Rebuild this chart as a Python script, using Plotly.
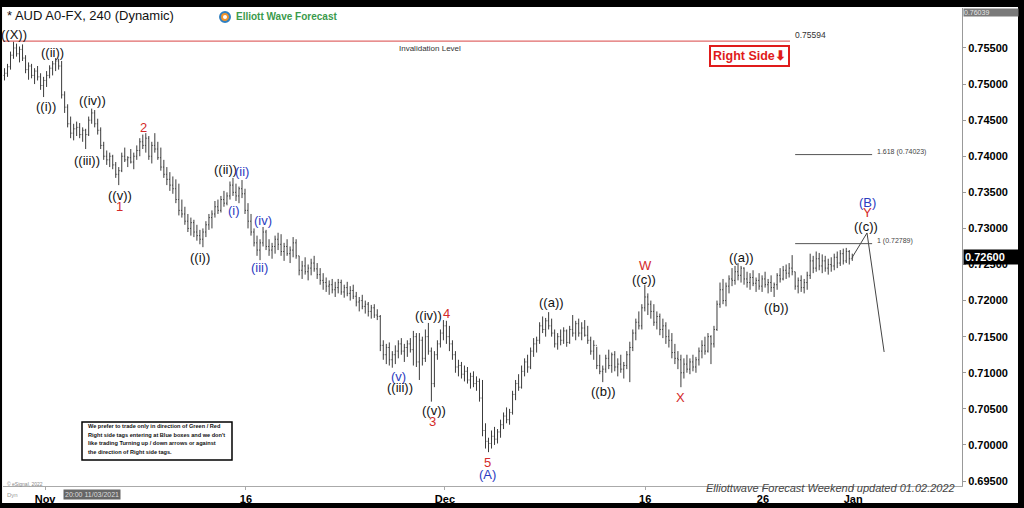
import plotly.graph_objects as go

# ---------------- data (4h bars, prices in pips: 7559 -> 0.7559) ----------------
first_open = 7512
bar_high = [
    7522, 7528, 7545, 7559, 7556, 7552, 7555, 7540, 7530, 7528, 7522, 7525, 7515, 7510, 7518, 7526, 7532, 7536, 7535, 7532,
    7490, 7472, 7455, 7445, 7448, 7446, 7440, 7438, 7455, 7466, 7464, 7452, 7440, 7420, 7408, 7405, 7402, 7392, 7385, 7405,
    7412, 7400, 7410, 7405, 7415, 7425, 7430, 7432, 7428, 7420, 7432, 7420, 7412, 7395, 7385, 7378, 7372, 7368, 7362, 7340,
    7330, 7320, 7315, 7312, 7305, 7298, 7300, 7310, 7320, 7325, 7338, 7340, 7345, 7352, 7350, 7365, 7370, 7362, 7358, 7367,
    7355, 7335, 7320, 7300, 7290, 7285, 7302, 7298, 7285, 7280, 7290, 7294, 7292, 7280, 7285, 7275, 7288, 7285, 7262, 7255,
    7260, 7250, 7258, 7262, 7252, 7245, 7238, 7232, 7228, 7230, 7226, 7230, 7229, 7222, 7226, 7220, 7222, 7212, 7205, 7208,
    7200, 7198, 7194, 7195, 7188, 7180, 7145, 7140, 7142, 7130, 7138, 7145, 7148, 7140, 7145, 7148, 7158, 7155, 7155, 7150,
    7160, 7169, 7135, 7130, 7145, 7160, 7173, 7172, 7165, 7145, 7130, 7118, 7115, 7110, 7108, 7100, 7102, 7095, 7092, 7090,
    7030, 7010, 7020, 7025, 7022, 7035, 7045, 7052, 7050, 7075, 7090, 7098, 7110, 7120, 7125, 7135, 7148, 7150, 7170, 7178,
    7176, 7184, 7175, 7160, 7155, 7160, 7163, 7160, 7165, 7180, 7172, 7175, 7170, 7173, 7165, 7150, 7145, 7136, 7125, 7110,
    7125, 7132, 7128, 7130, 7120, 7125, 7115, 7130, 7143, 7160, 7175, 7185, 7195, 7222, 7210, 7200, 7195, 7185, 7182, 7175,
    7170, 7160, 7155, 7140, 7130, 7125, 7120, 7125, 7120, 7125, 7122, 7135, 7145, 7150, 7155, 7152, 7165, 7200, 7225, 7230,
    7225, 7235, 7245, 7248, 7252, 7248, 7246, 7240, 7238, 7242, 7232, 7238, 7235, 7240, 7230, 7235, 7225, 7238, 7245, 7248,
    7250, 7252, 7263, 7240, 7232, 7235, 7230, 7240, 7265, 7262, 7268, 7266, 7264, 7262, 7258, 7260, 7265, 7268, 7270, 7272,
    7273, 7270, 7265,
]
bar_low = [
    7505, 7510, 7520, 7535, 7538, 7530, 7532, 7515, 7506, 7508, 7500, 7505, 7492, 7482, 7496, 7508, 7512, 7518, 7520, 7480,
    7460, 7440, 7425, 7422, 7428, 7425, 7420, 7410, 7428, 7445, 7440, 7430, 7410, 7395, 7388, 7385, 7382, 7370, 7360, 7378,
    7392, 7385, 7390, 7382, 7395, 7400, 7410, 7405, 7395, 7390, 7405, 7395, 7380, 7370, 7360, 7352, 7348, 7335, 7318, 7315,
    7305, 7295, 7290, 7288, 7283, 7278, 7274, 7288, 7298, 7300, 7315, 7320, 7322, 7330, 7332, 7340, 7345, 7338, 7335, 7342,
    7320, 7300, 7290, 7275, 7262, 7256, 7275, 7270, 7262, 7258, 7265, 7270, 7262, 7255, 7262, 7252, 7260, 7258, 7235, 7230,
    7236, 7228, 7235, 7240, 7230, 7222, 7215, 7212, 7208, 7210, 7205, 7210, 7208, 7204, 7206, 7200, 7202, 7192, 7185, 7188,
    7182, 7178, 7175, 7176, 7173, 7130, 7118, 7112, 7110, 7107, 7112, 7120, 7125, 7115, 7122, 7128, 7110, 7108, 7090, 7110,
    7115, 7125, 7060, 7080, 7118, 7135, 7145, 7140, 7130, 7118, 7100, 7095, 7092, 7088, 7085, 7078, 7080, 7075, 7060, 7012,
    6995, 6990, 6995, 7000, 7002, 7010, 7022, 7030, 7028, 7042, 7062, 7075, 7078, 7095, 7100, 7105, 7122, 7128, 7140, 7155,
    7150, 7160, 7150, 7135, 7132, 7138, 7140, 7136, 7140, 7150, 7145, 7150, 7145, 7150, 7140, 7125, 7118, 7105, 7098, 7087,
    7100, 7105, 7100, 7102, 7095, 7100, 7092, 7105, 7087, 7130, 7145, 7160, 7160, 7185, 7180, 7175, 7165, 7160, 7152, 7148,
    7140, 7135, 7120, 7112, 7105, 7080, 7092, 7100, 7098, 7102, 7100, 7110, 7120, 7125, 7128, 7112, 7135, 7158, 7190, 7195,
    7192, 7210, 7220, 7222, 7228, 7225, 7222, 7218, 7215, 7220, 7212, 7215, 7212, 7218, 7210, 7212, 7205, 7215, 7225, 7228,
    7230, 7232, 7235, 7215, 7210, 7212, 7210, 7215, 7230, 7238, 7240, 7242, 7238, 7240, 7236, 7240, 7242, 7245, 7248, 7250,
    7252, 7250, 7255,
]
bar_close = [
    7515, 7524, 7540, 7550, 7542, 7548, 7536, 7520, 7525, 7512, 7518, 7510, 7498, 7505, 7512, 7522, 7528, 7532, 7525, 7485,
    7468, 7445, 7432, 7438, 7440, 7430, 7436, 7430, 7450, 7460, 7445, 7436, 7415, 7400, 7395, 7400, 7388, 7375, 7380, 7400,
    7395, 7398, 7392, 7400, 7408, 7420, 7415, 7425, 7400, 7415, 7410, 7398, 7385, 7375, 7368, 7360, 7355, 7340, 7325, 7320,
    7310, 7300, 7308, 7295, 7290, 7285, 7295, 7305, 7315, 7320, 7330, 7325, 7340, 7335, 7345, 7360, 7350, 7345, 7355, 7348,
    7325, 7310, 7295, 7280, 7270, 7280, 7295, 7275, 7270, 7275, 7285, 7278, 7268, 7275, 7265, 7270, 7280, 7262, 7242, 7248,
    7240, 7245, 7252, 7244, 7236, 7228, 7225, 7220, 7222, 7215, 7218, 7225, 7212, 7218, 7210, 7214, 7206, 7198, 7200, 7192,
    7195, 7185, 7190, 7180, 7178, 7138, 7125, 7135, 7118, 7125, 7130, 7140, 7130, 7135, 7140, 7132, 7150, 7115, 7145, 7120,
    7150, 7130, 7085, 7125, 7140, 7155, 7165, 7150, 7140, 7125, 7108, 7110, 7098, 7102, 7090, 7095, 7085, 7088, 7065, 7020,
    7005, 7002, 7012, 7008, 7018, 7028, 7040, 7035, 7045, 7070, 7085, 7080, 7102, 7115, 7108, 7130, 7140, 7145, 7165, 7160,
    7172, 7165, 7155, 7140, 7150, 7145, 7158, 7142, 7160, 7155, 7168, 7155, 7162, 7152, 7145, 7130, 7138, 7110, 7102, 7105,
    7120, 7110, 7125, 7108, 7112, 7105, 7110, 7125, 7135, 7155, 7170, 7165, 7190, 7205, 7195, 7185, 7170, 7178, 7160, 7165,
    7150, 7145, 7128, 7120, 7118, 7100, 7112, 7105, 7115, 7108, 7118, 7130, 7138, 7130, 7150, 7140, 7160, 7195, 7215, 7200,
    7220, 7230, 7228, 7240, 7235, 7245, 7230, 7225, 7232, 7224, 7228, 7220, 7230, 7222, 7225, 7218, 7222, 7235, 7230, 7242,
    7238, 7245, 7240, 7220, 7228, 7218, 7225, 7235, 7255, 7245, 7258, 7248, 7255, 7245, 7250, 7248, 7260, 7252, 7265, 7255,
    7268, 7258, 7260,
]
PIPS = 10000.0

date_tick_bars = [13.5, 80.3, 146.5, 213.1, 252.3, 282.3]
date_tick_labels = ["Nov", "16", "Dec", "16", "26", "Jan"]
price_ticks = [0.695, 0.700, 0.705, 0.710, 0.715, 0.720, 0.725, 0.730, 0.735, 0.740, 0.745, 0.750, 0.755]

invalidation_level = 0.75594
fib_levels = [0.74023, 0.72789]
fib_texts = ["1.618 (0.74023)", "1 (0.72789)"]
fib_span_bars = [263.0, 288.6]
last_price = 0.72600
chart_high = 0.76039
proj_bars = [282, 286.9, 292.6]
proj_prices = [0.72600, 0.72937, 0.71288]

BLACK, RED, BLUE = "#111111", "#d42a2a", "#2b3cbf"
wave_labels = [
    ("((X))", 3.2, 0.75680, BLACK), ("((i))", 13.8, 0.74696, BLACK), ("((ii))", 15.8, 0.75431, BLACK),
    ("((iii))", 27.4, 0.73948, BLACK), ("((iv))", 29.4, 0.74766, BLACK), ("((v))", 38.4, 0.73463, BLACK),
    ("1", 38.1, 0.73297, RED), ("2", 46.4, 0.74392, RED),
    ("((i))", 65.0, 0.72604, BLACK), ("((ii))", 73.4, 0.73810, BLACK), ("(ii)", 79.0, 0.73782, BLUE),
    ("(i)", 76.3, 0.73255, BLUE), ("(iv)", 86.0, 0.73103, BLUE), ("(iii)", 84.7, 0.72452, BLUE),
    ("(v)", 131.2, 0.70955, BLUE), ("((iii))", 131.6, 0.70789, BLACK), ("((iv))", 140.9, 0.71800, BLACK),
    ("4", 146.9, 0.71828, RED), ("((v))", 142.9, 0.70484, BLACK), ("3", 142.5, 0.70318, RED),
    ("5", 160.5, 0.69750, RED), ("(A)", 160.5, 0.69597, BLUE),
    ("((a))", 181.8, 0.71967, BLACK), ("((b))", 199.1, 0.70734, BLACK), ("W", 213.1, 0.72493, RED),
    ("((c))", 212.7, 0.72299, BLACK), ("X", 224.7, 0.70664, RED), ("((a))", 245.0, 0.72604, BLACK),
    ("((b))", 256.7, 0.71911, BLACK), ("(B)", 286.9, 0.73366, BLUE), ("Y", 286.9, 0.73214, RED),
    ("((c))", 286.6, 0.73020, BLACK),
]
disclaimer_lines = [
    "We prefer to trade only in direction of Green / Red",
    "Right side tags entering at Blue boxes and we don't",
    "like trading Turning up / down arrows or against",
    "the direction of Right side tags.",
]

# ---------------- figure ----------------
FONT = "Liberation Sans, Arial, sans-serif"
bar_index = list(range(len(bar_close)))
opens = [v / PIPS for v in [first_open] + bar_close[:-1]]

fig = go.Figure()
fig.add_trace(go.Ohlc(
    x=bar_index, open=opens,
    high=[v / PIPS for v in bar_high], low=[v / PIPS for v in bar_low],
    close=[v / PIPS for v in bar_close],
    increasing=dict(line=dict(color="#3c3c3c", width=1)),
    decreasing=dict(line=dict(color="#3c3c3c", width=1)),
    tickwidth=0.3, hoverinfo="skip",
))
fig.add_trace(go.Scatter(x=proj_bars, y=proj_prices, mode="lines",
                         line=dict(color="#444444", width=1), hoverinfo="skip"))

shapes = []
shapes.append(dict(type="line", xref="x", yref="y", x0=-0.5, x1=261.3,
                   y0=invalidation_level, y1=invalidation_level,
                   line=dict(color="#e06a6a", width=1.2)))
for lv in fib_levels:
    shapes.append(dict(type="line", xref="x", yref="y", x0=fib_span_bars[0], x1=fib_span_bars[1],
                       y0=lv, y1=lv, line=dict(color="#555555", width=1)))
shapes.append(dict(type="rect", xref="paper", yref="paper", x0=0.08238, x1=0.23879,
                   y0=0.05439, y1=0.13389, line=dict(color="black", width=1.5), fillcolor="white"))
shapes.append(dict(type="circle", xref="paper", yref="paper", x0=0.2263, x1=0.2367,
                   y0=0.9707, y1=0.9916, line=dict(color="#2f7fc0", width=2), fillcolor="#f0922b"))
shapes.append(dict(type="circle", xref="paper", yref="paper", x0=0.2294, x1=0.2336,
                   y0=0.9770, y1=0.9853, line=dict(width=0), fillcolor="white"))
for x0, x1, y0, y1 in [(-0.01, 1.07, 1.0021, 1.03), (1.0584, 1.07, -0.06, 1.03),
                       (-0.01, 1.07, -0.06, -0.0356), (-0.01, -0.001, -0.06, 1.03)]:
    shapes.append(dict(type="rect", xref="paper", yref="paper", x0=x0, x1=x1, y0=y0, y1=y1,
                       line=dict(width=0), fillcolor="black", layer="above"))


def note(text, x, y, size, color, xanchor="center", xref="paper", yref="paper", **kw):
    d = dict(text=text, x=x, y=y, xref=xref, yref=yref, showarrow=False,
             xanchor=xanchor, yanchor="middle", font=dict(family=FONT, size=size, color=color))
    d.update(kw)
    return d


ann = []
for txt, xb, pr, col in wave_labels:
    ann.append(note(txt, xb, pr, 13, col, xref="x", yref="y"))
ann.append(note("Invalidation Level", 141.5, invalidation_level, 8, "#333", xref="x", yref="y", yshift=-7))
ann.append(note(f"{invalidation_level:.5f}", 262.3, invalidation_level, 8.5, "#333", xanchor="left",
                xref="x", yref="y", yshift=6))
for lv, t in zip(fib_levels, fib_texts):
    ann.append(note(t, 289.6, lv, 7, "#444", xanchor="left", xref="x", yref="y", yshift=3))
ann.append(note("<b>Right Side⬇</b>", 0.7784, 0.8996, 12.5, "#e01b1b",
                bordercolor="#e01b1b", borderwidth=2, borderpad=2, bgcolor="white"))
ann.append(note("* AUD A0-FX, 240 (Dynamic)", 0.002, 0.9833, 13, "#111", xanchor="left"))
ann.append(note("<b>Elliott Wave Forecast</b>", 0.2409, 0.9812, 10, "#3a9a4c", xanchor="left"))
for line, yy in zip(disclaimer_lines, [0.12552, 0.10669, 0.08996, 0.07113]):
    ann.append(note(f"<b>{line}</b>", 0.08655, yy, 5.6, "#111", xanchor="left"))
ann.append(note("<b>" + f"{last_price:.5f}" + "</b>", 1.0, last_price, 11, "white", xanchor="left",
                yref="y", xshift=1, width=52, align="left", bgcolor="black", borderpad=1))
ann.append(note(f"{chart_high:.5f}", 1.0, 0.9916, 7, "#e8e8e8", xanchor="left", xshift=1,
                width=54, align="left", bgcolor="#7a7a7a", borderpad=0))
eb = note("Elliottwave Forecast Weekend updated 01.02.2022", 0.8624, -0.0042, 11, "#444")
eb["font"]["style"] = "italic"
ann.append(eb)
ann.append(note("© eSignal, 2022", 0.002, 0.0042, 5, "#888", xanchor="left"))
ann.append(note("Dyn", 0.002, -0.0188, 6, "#999", xanchor="left"))
ann.append(note("20:00 11/03/2021", 0.0928, -0.0188, 7, "#dddddd", bgcolor="#666666", borderpad=1))

fig.update_layout(
    width=1024, height=508, margin=dict(l=3, r=62, t=8, b=22, autoexpand=False),
    paper_bgcolor="white", plot_bgcolor="white", showlegend=False, hovermode=False,
    shapes=shapes, annotations=ann,
    xaxis=dict(range=[-0.5, 318.5], tickvals=date_tick_bars, ticktext=date_tick_labels,
               showgrid=False, zeroline=False, showline=True, linecolor="#aaaaaa", linewidth=1,
               ticks="outside", ticklen=3, tickcolor="#aaaaaa", automargin=False,
               tickfont=dict(family=FONT, size=11, color="black", weight="bold"),
               rangeslider=dict(visible=False), fixedrange=True),
    yaxis=dict(side="right", range=[0.69431, 0.76054], tickvals=price_ticks, tickformat=".5f",
               showgrid=False, zeroline=False, showline=True, linecolor="#999999", linewidth=1,
               ticks="outside", ticklen=3, tickcolor="#999999", automargin=False,
               tickfont=dict(family=FONT, size=11, color="black", weight="bold"), fixedrange=True),
)
fig.write_html("out.html", config={"displayModeBar": False},
               post_script="document.body.style.margin='0';document.body.style.overflow='hidden';")
